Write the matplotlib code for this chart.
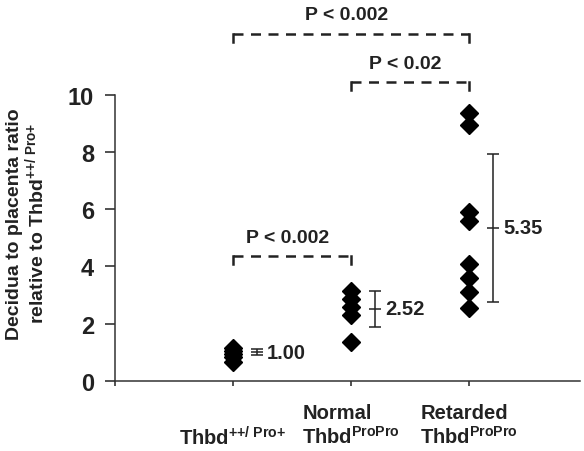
import numpy as np
import matplotlib
matplotlib.use("Agg")
import matplotlib.pyplot as plt

plt.rcParams['font.family'] = ['Liberation Sans', 'DejaVu Sans']
plt.rcParams['font.weight'] = 'bold'
plt.rcParams['mathtext.fontset'] = 'custom'
plt.rcParams['mathtext.rm'] = 'Liberation Sans:bold'
plt.rcParams['mathtext.bf'] = 'Liberation Sans:bold'
plt.rcParams['mathtext.it'] = 'Liberation Sans:bold'

# data
positions = [1, 2, 3]
wt = [1.15, 1.05, 0.95, 0.85, 0.65]
normal = [3.15, 2.85, 2.6, 2.3, 1.35]
retarded = [9.35, 8.95, 5.9, 5.6, 4.1, 3.6, 3.1, 2.55]
means = [1.00, 2.52, 5.35]
errs = [0.1, 0.63, 2.58]
mean_labels = ["1.00", "2.52", "5.35"]
wt_sup = "Thbd$^{{+}{+}/\\ Pro{+}}$"
tick_labels = ["", "\n" + wt_sup, "Normal\nThbd$^{ProPro}$", "Retarded\nThbd$^{ProPro}$"]
# brackets: (left group, right group, height, p text)
brackets = [(1, 2, 4.35, "P < 0.002"), (2, 3, 10.45, "P < 0.02"), (1, 3, 12.13, "P < 0.002")]

fig = plt.figure(figsize=(5.84, 4.52), dpi=100)
ax = fig.add_axes([0.197, 0.155, 0.796, 0.633])

for pos, vals in zip(positions, [wt, normal, retarded]):
    ax.plot([pos] * len(vals), vals, linestyle='none', marker='D', markersize=9,
            color='black', clip_on=False)

off = 0.2
for pos, m, e, lab in zip(positions, means, errs, mean_labels):
    ax.errorbar(pos + off, m, yerr=e, fmt='none', ecolor='#222222', elinewidth=1.1,
                capsize=4.5, capthick=1.1)
    ax.plot(pos + off, m, marker='_', markersize=9, markeredgewidth=1.1, color='#222222')
    ax.text(pos + off + 0.09, m, lab, fontsize=14.5, fontweight='bold', va='center',
            ha='left', color='#222222')

for a, b, h, txt in brackets:
    ax.plot([a, b], [h, h], color='#222222', lw=1.8, linestyle=(0, (4, 3)),
            clip_on=False, dash_capstyle='butt')
    ax.plot([a, a], [h, h - 0.27], color='#222222', lw=1.8, clip_on=False)
    ax.plot([b, b], [h, h - 0.27], color='#222222', lw=1.8, clip_on=False)
    ax.text((a + b) / 2 - 0.04, h + 0.66, txt, fontsize=14, fontweight='bold', ha='center',
            va='center', color='#222222', clip_on=False)

ax.set_xlim(0, 3.94)
ax.set_ylim(0, 10)
ax.set_yticks(np.arange(0, 11, 2))
ax.set_xticks([0, 1, 2, 3])
ax.set_xticklabels(tick_labels, fontsize=14.5, fontweight='bold', color='#222222')
for lab in ax.get_xticklabels():
    lab.set_multialignment('left')
ax.tick_params(axis='y', length=7, width=1.1, labelsize=17, pad=8, colors='#222222')
ax.tick_params(axis='x', length=3.6, width=1.1, pad=12, colors='#222222')
for lab in ax.get_yticklabels():
    lab.set_fontweight('bold')
for s in ['top', 'right']:
    ax.spines[s].set_visible(False)
for s in ['left', 'bottom']:
    ax.spines[s].set_linewidth(1.1)
    ax.spines[s].set_color('#333333')

fig.text(0.045, 0.505, "Decidua to placenta ratio\nrelative to " + wt_sup,
         rotation=90, ha='center', va='center', fontsize=14, fontweight='bold',
         linespacing=1.0, color='#222222')

fig.savefig("out.png", dpi=100)
